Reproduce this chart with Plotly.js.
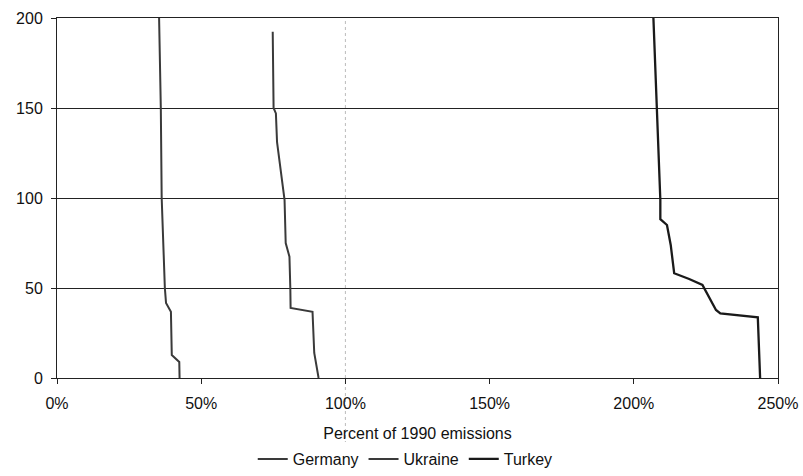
<!DOCTYPE html>
<html>
<head>
<meta charset="utf-8">
<script src="https://cdn.plot.ly/plotly-3.0.1.min.js"></script>
<style>html,body{margin:0;padding:0;background:#fff;}#chart{width:803px;height:476px;}</style>
</head>
<body>
<div id="chart"></div>
<script>
// Percent of 1990 emissions (x) vs. ranking value (y)
const germanyX = [42.5, 42.4, 39.8, 39.5, 37.8, 37.4, 36.3, 36.0, 35.4];
const germanyY = [0, 8.9, 12.8, 36.8, 41.7, 50, 100, 150, 200];

const ukraineX = [90.7, 89.2, 88.6, 81.0, 80.9, 80.6, 79.3, 78.9, 76.3, 75.9, 75.1, 74.8];
const ukraineY = [0, 13.9, 36.8, 38.9, 50, 67.4, 75, 99, 131, 147, 150, 192.4];

const turkeyX = [243.8, 243.0, 230.0, 228.5, 223.8, 219.2, 214.0, 212.8, 211.5, 209.2, 209.2, 208.0, 206.8];
const turkeyY = [0, 33.7, 35.9, 37.8, 51.7, 55, 58.2, 73.9, 85, 88.2, 99, 150, 200];

const xTicks = [0, 50, 100, 150, 200, 250];
const xTickLabels = ['0%', '50%', '100%', '150%', '200%', '250%'];
const yTicks = [0, 50, 100, 150, 200];
const yTickLabels = ['0', '50', '100', '150', '200'];

const lineStyle = (w, c) => ({color: c, width: w});
const traces = [
  {x: germanyX, y: germanyY, mode: 'lines', name: 'Germany', line: lineStyle(2, '#3a3a3a')},
  {x: ukraineX, y: ukraineY, mode: 'lines', name: 'Ukraine', line: lineStyle(2, '#3a3a3a')},
  {x: turkeyX, y: turkeyY, mode: 'lines', name: 'Turkey', line: lineStyle(2.3, '#1a1a1a')}
];

const layout = {
  width: 803, height: 476,
  margin: {l: 57, r: 25, t: 18, b: 98, autoexpand: false},
  paper_bgcolor: '#fff', plot_bgcolor: '#fff',
  font: {family: 'Liberation Sans, Arial, sans-serif', size: 16, color: '#111'},
  showlegend: true,
  legend: {orientation: 'h', x: 0.483, xanchor: 'center', yref: 'container', y: 0.0, yanchor: 'bottom',
           font: {size: 16, color: '#111'}, tracegroupgap: 0},
  xaxis: {
    range: [0, 250], tickvals: xTicks, ticktext: xTickLabels,
    showgrid: false, zeroline: false,
    showline: true, linecolor: '#222', linewidth: 1, mirror: true,
    ticks: 'outside', ticklen: 5, tickcolor: '#222', ticklabelstandoff: 6,
    title: {text: 'Percent of 1990 emissions', font: {size: 16, color: '#111'}, standoff: 22}
  },
  yaxis: {
    range: [0, 200], tickvals: yTicks, ticktext: yTickLabels,
    showgrid: true, gridcolor: '#222', gridwidth: 1, zeroline: false,
    showline: true, linecolor: '#222', linewidth: 1, mirror: true,
    ticks: 'outside', ticklen: 5, tickcolor: '#222', ticklabelstandoff: 5
  },
  shapes: [
    {type: 'line', xref: 'x', yref: 'paper', x0: 100, x1: 100, y0: -0.25, y1: 1,
     line: {color: '#bbb', width: 1, dash: 'dot'}, layer: 'below'}
  ]
};

Plotly.newPlot('chart', traces, layout, {displayModeBar: false, staticPlot: true});
</script>
</body>
</html>
